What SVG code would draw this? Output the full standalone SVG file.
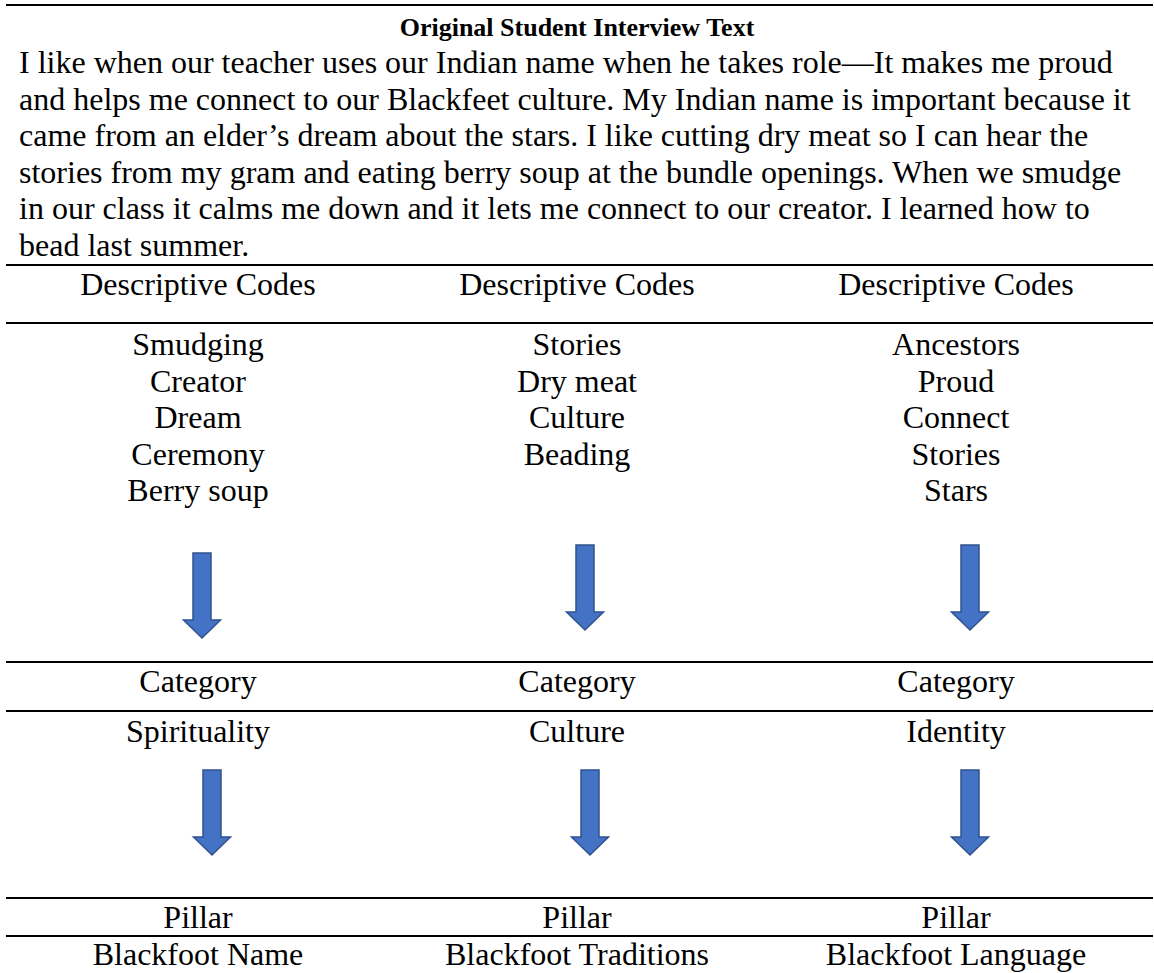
<svg xmlns="http://www.w3.org/2000/svg" xmlns:xlink="http://www.w3.org/1999/xlink" width="1154" height="973" viewBox="0 0 1154 973">
<style>
  .t { font-family: "Liberation Serif", "Times New Roman", serif; font-size: 32px; fill: #000; }
  .c { text-anchor: middle; }
  .title { font-family: "Liberation Serif", "Times New Roman", serif; font-size: 26px; font-weight: bold; fill: #000; text-anchor: middle; }
  .rule { stroke: #000; stroke-width: 2; }
  .arrow { fill: #4472C4; stroke: #2F528F; stroke-width: 1.5; stroke-linejoin: miter; }
</style>
<defs>
  <path id="down" class="arrow" d="M -9 0 L 9 0 L 9 67 L 18.5 67 L 0 85 L -18.5 67 L -9 67 Z"/>
</defs>
<rect width="1154" height="973" fill="#fff"/>
<g id="rules">
  <line class="rule" x1="6" y1="5" x2="1153" y2="5"/>
  <line class="rule" x1="6" y1="265" x2="1153" y2="265"/>
  <line class="rule" x1="6" y1="323" x2="1153" y2="323"/>
  <line class="rule" x1="6" y1="662" x2="1153" y2="662"/>
  <line class="rule" x1="6" y1="711" x2="1153" y2="711"/>
  <line class="rule" x1="6" y1="898" x2="1153" y2="898"/>
  <line class="rule" x1="6" y1="936" x2="1153" y2="936"/>
</g>
<g id="interview">
  <text class="title" x="577" y="36">Original Student Interview Text</text>
  <text class="t" x="19" y="73">I like when our teacher uses our Indian name when he takes role—It makes me proud</text>
  <text class="t" x="19" y="110">and helps me connect to our Blackfeet culture. My Indian name is important because it</text>
  <text class="t" x="19" y="146">came from an elder’s dream about the stars. I like cutting dry meat so I can hear the</text>
  <text class="t" x="19" y="183">stories from my gram and eating berry soup at the bundle openings. When we smudge</text>
  <text class="t" x="19" y="219">in our class it calms me down and it lets me connect to our creator. I learned how to</text>
  <text class="t" x="19" y="256">bead last summer.</text>
</g>
<g id="codes-1">
  <text class="t c" x="198" y="295">Descriptive Codes</text>
  <text class="t c" x="198" y="355">Smudging</text>
  <text class="t c" x="198" y="392">Creator</text>
  <text class="t c" x="198" y="428">Dream</text>
  <text class="t c" x="198" y="465">Ceremony</text>
  <text class="t c" x="198" y="501">Berry soup</text>
</g>
<g id="codes-2">
  <text class="t c" x="577" y="295">Descriptive Codes</text>
  <text class="t c" x="577" y="355">Stories</text>
  <text class="t c" x="577" y="392">Dry meat</text>
  <text class="t c" x="577" y="428">Culture</text>
  <text class="t c" x="577" y="465">Beading</text>
</g>
<g id="codes-3">
  <text class="t c" x="956" y="295">Descriptive Codes</text>
  <text class="t c" x="956" y="355">Ancestors</text>
  <text class="t c" x="956" y="392">Proud</text>
  <text class="t c" x="956" y="428">Connect</text>
  <text class="t c" x="956" y="465">Stories</text>
  <text class="t c" x="956" y="501">Stars</text>
</g>
<g id="category-1">
  <text class="t c" x="198" y="692">Category</text>
  <text class="t c" x="198" y="742">Spirituality</text>
</g>
<g id="category-2">
  <text class="t c" x="577" y="692">Category</text>
  <text class="t c" x="577" y="742">Culture</text>
</g>
<g id="category-3">
  <text class="t c" x="956" y="692">Category</text>
  <text class="t c" x="956" y="742">Identity</text>
</g>
<g id="pillar-1">
  <text class="t c" x="198" y="928">Pillar</text>
  <text class="t c" x="198" y="965">Blackfoot Name</text>
</g>
<g id="pillar-2">
  <text class="t c" x="577" y="928">Pillar</text>
  <text class="t c" x="577" y="965">Blackfoot Traditions</text>
</g>
<g id="pillar-3">
  <text class="t c" x="956" y="928">Pillar</text>
  <text class="t c" x="956" y="965">Blackfoot Language</text>
</g>
<g id="connectors">
  <use xlink:href="#down" x="202" y="553"/>
  <use xlink:href="#down" x="585" y="545"/>
  <use xlink:href="#down" x="970" y="545"/>
  <use xlink:href="#down" x="212" y="770"/>
  <use xlink:href="#down" x="590" y="770"/>
  <use xlink:href="#down" x="970" y="770"/>
</g>
</svg>
